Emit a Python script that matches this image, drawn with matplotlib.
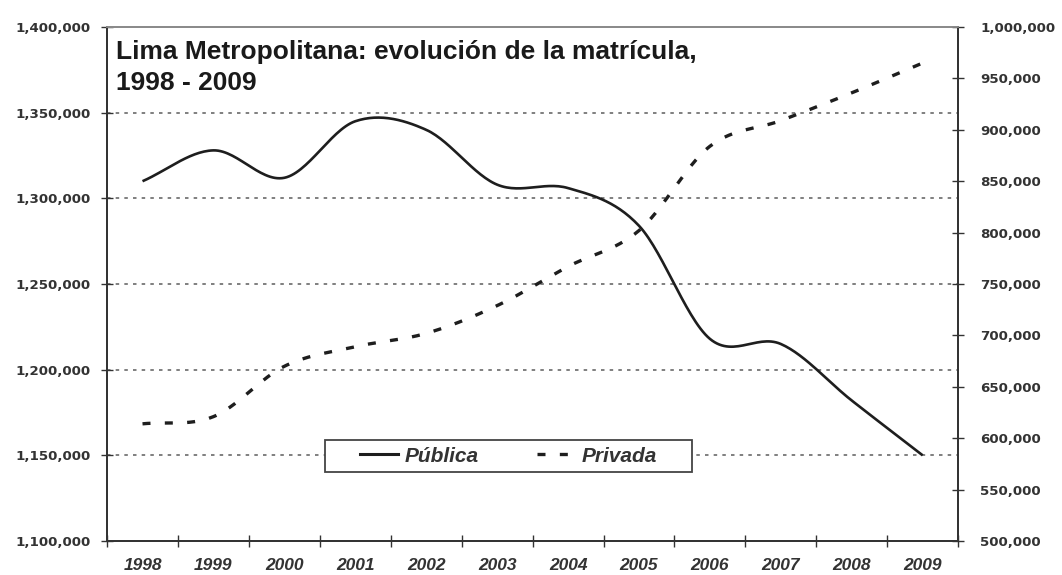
import numpy as np
import matplotlib
matplotlib.use("Agg")
import matplotlib.pyplot as plt
from matplotlib.lines import Line2D
from matplotlib.patches import Rectangle

plt.rcParams['font.family'] = ['Liberation Sans', 'DejaVu Sans']

years = ["1998", "1999", "2000", "2001", "2002", "2003",
         "2004", "2005", "2006", "2007", "2008", "2009"]
publica = [1310000, 1328000, 1312000, 1345000, 1340000, 1308000,
           1306000, 1284000, 1218000, 1215000, 1182000, 1150000]
privada = [614000, 621000, 670000, 689000, 702000, 729000,
           767000, 802000, 884000, 909000, 936000, 965000]

left_ticks = [1100000, 1150000, 1200000, 1250000, 1300000, 1350000, 1400000]
right_ticks = [500000, 550000, 600000, 650000, 700000, 750000,
               800000, 850000, 900000, 950000, 1000000]

title_lines = ["Lima Metropolitana: evolución de la matrícula,", "1998 - 2009"]


def smooth(x, y, n=30):
    """Catmull-Rom spline through the points, for a smoothed line."""
    x = np.asarray(x, float)
    y = np.asarray(y, float)
    px = np.concatenate([[2 * x[0] - x[1]], x, [2 * x[-1] - x[-2]]])
    py = np.concatenate([[2 * y[0] - y[1]], y, [2 * y[-1] - y[-2]]])
    xs, ys = [], []
    t = np.linspace(0, 1, n, endpoint=False)
    for i in range(1, len(px) - 2):
        for p, out in ((px, xs), (py, ys)):
            p0, p1, p2, p3 = p[i - 1], p[i], p[i + 1], p[i + 2]
            out.extend(0.5 * ((2 * p1) + (-p0 + p2) * t
                              + (2 * p0 - 5 * p1 + 4 * p2 - p3) * t ** 2
                              + (-p0 + 3 * p1 - 3 * p2 + p3) * t ** 3))
    xs.append(x[-1])
    ys.append(y[-1])
    return np.array(xs), np.array(ys)


fig = plt.figure(figsize=(10.62, 5.75), dpi=100)
ax = fig.add_axes([0.1008, 0.0591, 0.8014, 0.8939])
ax2 = ax.twinx()

xpos = np.arange(len(years))
dark = "#1e1e1e"
solid_lw = 1.9
dash_lw = 2.4
dash_style = (0, (2.4, 4.3))

sx, sy = smooth(xpos, publica)
ax.plot(sx, sy, color=dark, lw=solid_lw, solid_capstyle="butt", zorder=3)
sx2, sy2 = smooth(xpos, privada)
ax2.plot(sx2, sy2, color=dark, lw=dash_lw, linestyle=dash_style, zorder=3)

ax.set_xlim(-0.5, len(years) - 0.5)
ax.set_ylim(left_ticks[0], left_ticks[-1])
ax2.set_ylim(right_ticks[0], right_ticks[-1])

# dotted gridlines on the left scale
for v in left_ticks[1:-1]:
    ax.axhline(v, color="#6a6a6a", lw=1.2, linestyle=(0, (2.1, 3.1)), zorder=1)

ax.set_yticks(left_ticks)
ax.set_yticklabels([f"{v:,}" for v in left_ticks])
ax2.set_yticks(right_ticks)
ax2.set_yticklabels([f"{v:,}" for v in right_ticks])

ax.set_xticks(xpos)
ax.set_xticklabels(years)
ax.set_xticks(np.arange(-0.5, len(years)), minor=True)
ax.tick_params(axis="x", which="major", length=0, pad=12)
ax.tick_params(axis="x", which="minor", length=8, direction="inout",
               width=1, color="#333333")
for lab in ax.get_xticklabels():
    lab.set_fontfamily(["Liberation Sans", "DejaVu Sans"])
    lab.set_fontstyle("italic")
    lab.set_fontweight("bold")
    lab.set_fontsize(12.5)
    lab.set_color("#333333")

ax.tick_params(axis="y", length=8, direction="inout", width=1,
               color="#333333", pad=8)
ax2.tick_params(axis="y", length=8, direction="inout", width=1,
                color="#333333", pad=12)
for lab in ax.get_yticklabels() + ax2.get_yticklabels():
    lab.set_fontfamily(["DejaVu Sans"])
    lab.set_fontweight("bold")
    lab.set_fontsize(9.6)
    lab.set_color("#333333")

for a in (ax, ax2):
    a.spines["left"].set_color("#333333")
    a.spines["bottom"].set_color("#333333")
    a.spines["right"].set_color("#333333")
    a.spines["top"].set_color("#8a8a8a")
    for s in a.spines.values():
        s.set_linewidth(1.3)

# two-line title inside the plot area
for line, ypos in zip(title_lines, (0.9377, 0.8774)):
    ax.text(0.010, ypos, line, transform=ax.transAxes, ha="left",
            va="baseline", fontsize=19, fontweight="bold",
            color="#1a1a1a", zorder=5)

# legend: entries plus a plain rectangular frame
handles = [Line2D([], [], color=dark, lw=2.2),
           Line2D([], [], color=dark, lw=dash_lw, linestyle=dash_style)]
leg = ax2.legend(handles, ["Pública", "Privada"], loc="center",
                 bbox_to_anchor=(0.4718, 0.1654), ncol=2, frameon=False,
                 handlelength=1.8, handletextpad=0.33, columnspacing=2.8,
                 borderpad=0.2, prop={"size": 15, "style": "italic",
                                      "weight": "bold"})
for t in leg.get_texts():
    t.set_color("#333333")
ax2.add_patch(Rectangle((0.2562, 0.1342), 0.4312, 0.0623,
                        transform=ax2.transAxes, facecolor="white",
                        edgecolor="#444444", lw=1.3, zorder=4))
leg.set_zorder(6)

fig.savefig("out.png", dpi=100, facecolor="white")
